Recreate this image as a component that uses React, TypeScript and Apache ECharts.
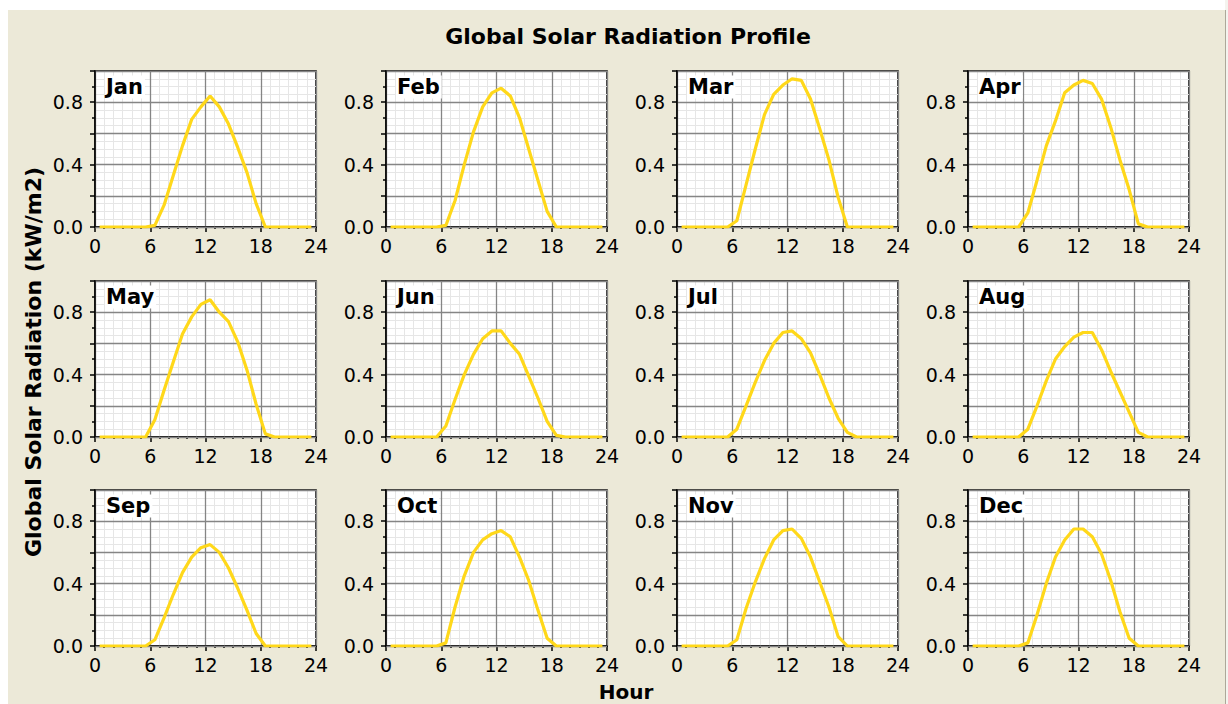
import React, { useEffect, useRef } from "react";
import * as echarts from "echarts";

const MONTHS = ["Jan", "Feb", "Mar", "Apr", "May", "Jun", "Jul", "Aug", "Sep", "Oct", "Nov", "Dec"];
const HOURS = [0.5, 1.5, 2.5, 3.5, 4.5, 5.5, 6.5, 7.5, 8.5, 9.5, 10.5, 11.5, 12.5, 13.5, 14.5, 15.5, 16.5, 17.5, 18.5, 19.5, 20.5, 21.5, 22.5, 23.5];
const X_TICKS = [0, 6, 12, 18, 24];
const Y_LABELS = ["0.0", "0.4", "0.8"];

const JAN = [0, 0, 0, 0, 0, 0, 0.01, 0.14, 0.33, 0.52, 0.69, 0.77, 0.84, 0.77, 0.66, 0.51, 0.35, 0.15, 0, 0, 0, 0, 0, 0];
const FEB = [0, 0, 0, 0, 0, 0, 0.01, 0.17, 0.40, 0.61, 0.77, 0.86, 0.89, 0.84, 0.70, 0.50, 0.30, 0.10, 0, 0, 0, 0, 0, 0];
const MAR = [0, 0, 0, 0, 0, 0, 0.04, 0.27, 0.50, 0.72, 0.85, 0.91, 0.95, 0.94, 0.82, 0.63, 0.43, 0.19, 0, 0, 0, 0, 0, 0];
const APR = [0, 0, 0, 0, 0, 0, 0.09, 0.30, 0.52, 0.68, 0.86, 0.91, 0.94, 0.92, 0.82, 0.64, 0.43, 0.24, 0.02, 0, 0, 0, 0, 0];
const MAY = [0, 0, 0, 0, 0, 0, 0.11, 0.30, 0.48, 0.66, 0.77, 0.85, 0.88, 0.80, 0.74, 0.61, 0.43, 0.21, 0.02, 0, 0, 0, 0, 0];
const JUN = [0, 0, 0, 0, 0, 0, 0.07, 0.24, 0.40, 0.53, 0.63, 0.68, 0.68, 0.60, 0.53, 0.39, 0.25, 0.10, 0.01, 0, 0, 0, 0, 0];
const JUL = [0, 0, 0, 0, 0, 0, 0.05, 0.20, 0.35, 0.49, 0.60, 0.67, 0.68, 0.63, 0.54, 0.40, 0.25, 0.12, 0.03, 0, 0, 0, 0, 0];
const AUG = [0, 0, 0, 0, 0, 0, 0.05, 0.20, 0.36, 0.50, 0.58, 0.64, 0.67, 0.67, 0.56, 0.42, 0.29, 0.16, 0.03, 0, 0, 0, 0, 0];
const SEP = [0, 0, 0, 0, 0, 0, 0.04, 0.18, 0.33, 0.47, 0.57, 0.63, 0.65, 0.60, 0.50, 0.37, 0.23, 0.08, 0, 0, 0, 0, 0, 0];
const OCT = [0, 0, 0, 0, 0, 0, 0.02, 0.25, 0.45, 0.60, 0.68, 0.72, 0.74, 0.70, 0.57, 0.42, 0.23, 0.05, 0, 0, 0, 0, 0, 0];
const NOV = [0, 0, 0, 0, 0, 0, 0.04, 0.24, 0.41, 0.56, 0.68, 0.74, 0.75, 0.69, 0.57, 0.41, 0.25, 0.06, 0, 0, 0, 0, 0, 0];
const DEC = [0, 0, 0, 0, 0, 0, 0.02, 0.20, 0.40, 0.57, 0.68, 0.75, 0.75, 0.70, 0.59, 0.42, 0.22, 0.05, 0, 0, 0, 0, 0, 0];
const MONTH_DATA = [JAN, FEB, MAR, APR, MAY, JUN, JUL, AUG, SEP, OCT, NOV, DEC];

const TITLE = "Global Solar Radiation Profile";
const Y_TITLE = "Global Solar Radiation (kW/m2)";
const X_TITLE = "Hour";

const COL_LEFT = [95, 386, 677, 968];
const ROW_TOP = [71, 281, 490];
const PW = 221;
const PH = 156;
const FONT = '"DejaVu Sans", "Liberation Sans", sans-serif';

export default function App() {
  const ref = useRef<HTMLDivElement>(null);
  useEffect(() => {
    if (!ref.current) return;
    const chart = echarts.init(ref.current, null, { renderer: "svg" });
    const grids: any[] = [];
    const xAxes: any[] = [];
    const yAxes: any[] = [];
    const yAxesMinor: any[] = [];
    const series: any[] = [];
    const graphics: any[] = [];

    MONTHS.forEach((m, i) => {
      const r = Math.floor(i / 4);
      const c = i % 4;
      const left = COL_LEFT[c];
      const top = ROW_TOP[r];
      grids.push({
        left, top, width: PW, height: PH, show: true,
        backgroundColor: "#ffffff", borderColor: "#000000", borderWidth: 1.5,
      });
      xAxes.push({
        type: "value", gridIndex: i, min: 0, max: 24, interval: 6, z: 1,
        axisLine: { show: true, onZero: false, lineStyle: { color: "#000", width: 1.5 } },
        axisTick: { show: true, length: 5, lineStyle: { color: "#000", width: 1.5 } },
        minorTick: { show: true, splitNumber: 6, length: 2, lineStyle: { color: "#000", width: 1.5 } },
        splitLine: { show: true, lineStyle: { color: "#858585", width: 1.3 } },
        minorSplitLine: { show: true, lineStyle: { color: "#e6e6e6", width: 1 } },
        axisLabel: {
          color: "#000", fontFamily: FONT, fontSize: 19, margin: 9,
          formatter: (v: number) => (X_TICKS.includes(v) ? String(v) : ""),
        },
      });
      yAxes.push({
        type: "value", gridIndex: i, min: 0, max: 1, interval: 0.2, z: 2,
        axisLine: { show: true, onZero: false, lineStyle: { color: "#000", width: 1.5 } },
        axisTick: { show: true, length: 5, lineStyle: { color: "#000", width: 1.5 } },
        minorTick: { show: true, splitNumber: 2, length: 3, lineStyle: { color: "#000", width: 1.5 } },
        splitLine: { show: true, lineStyle: { color: "#858585", width: 1.3 } },
        axisLabel: {
          color: "#000", fontFamily: FONT, fontSize: 19, margin: 12,
          formatter: (v: number) => {
            const s = v.toFixed(1);
            return Y_LABELS.includes(s) ? s : "";
          },
        },
      });
      yAxesMinor.push({
        type: "value", gridIndex: i, min: 0, max: 1, interval: 0.05, z: 0, position: "right",
        axisLine: { show: false }, axisTick: { show: false }, axisLabel: { show: false },
        splitLine: { show: true, lineStyle: { color: "#e6e6e6", width: 1 } },
      });
      series.push({
        type: "line", xAxisIndex: i, yAxisIndex: i, z: 5, silent: true,
        showSymbol: false, symbol: "none",
        data: HOURS.map((h, k) => [h, MONTH_DATA[i][k]]),
        lineStyle: { color: "#FFD81A", width: 3.2 },
      });
      graphics.push({
        type: "text", x: left + 10, y: top + 16, z: 50,
        style: {
          text: m, font: `bold 21px ${FONT}`, fill: "#000",
          textAlign: "left", textVerticalAlign: "middle", align: "left", verticalAlign: "middle",
          backgroundColor: "#ffffff", padding: [1, 2, 1, 1],
        },
      });
    });

    graphics.push(
      { type: "rect", z: 100, shape: { x: 0, y: 0, width: 1228, height: 10 }, style: { fill: "#ffffff" } },
      { type: "rect", z: 100, shape: { x: 0, y: 0, width: 8, height: 704 }, style: { fill: "#ffffff" } },
      { type: "rect", z: 100, shape: { x: 1225, y: 0, width: 3, height: 704 }, style: { fill: "#f4f3ee" } },
      { type: "line", z: 101, shape: { x1: 1225.5, y1: 10, x2: 1225.5, y2: 704 }, style: { stroke: "#aca899", lineWidth: 1 } },
      {
        type: "text", x: 628, y: 36, z: 50,
        style: { text: TITLE, font: `bold 22px ${FONT}`, fill: "#000", textAlign: "center", textVerticalAlign: "middle", align: "center", verticalAlign: "middle" },
      },
      {
        type: "text", x: 33, y: 362, rotation: Math.PI / 2, z: 50,
        style: { text: Y_TITLE, font: `bold 22px ${FONT}`, fill: "#000", textAlign: "center", textVerticalAlign: "middle", align: "center", verticalAlign: "middle" },
      },
      {
        type: "text", x: 626, y: 692, z: 50,
        style: { text: X_TITLE, font: `bold 20px ${FONT}`, fill: "#000", textAlign: "center", textVerticalAlign: "middle", align: "center", verticalAlign: "middle" },
      }
    );

    chart.setOption({
      animation: false,
      backgroundColor: "#ECE9D8",
      grid: grids,
      xAxis: xAxes,
      yAxis: [...yAxes, ...yAxesMinor],
      series,
      graphic: graphics,
    });
    return () => chart.dispose();
  }, []);
  return <div ref={ref} style={{ position: "absolute", left: 0, top: 0, width: 1228, height: 704 }} />;
}
